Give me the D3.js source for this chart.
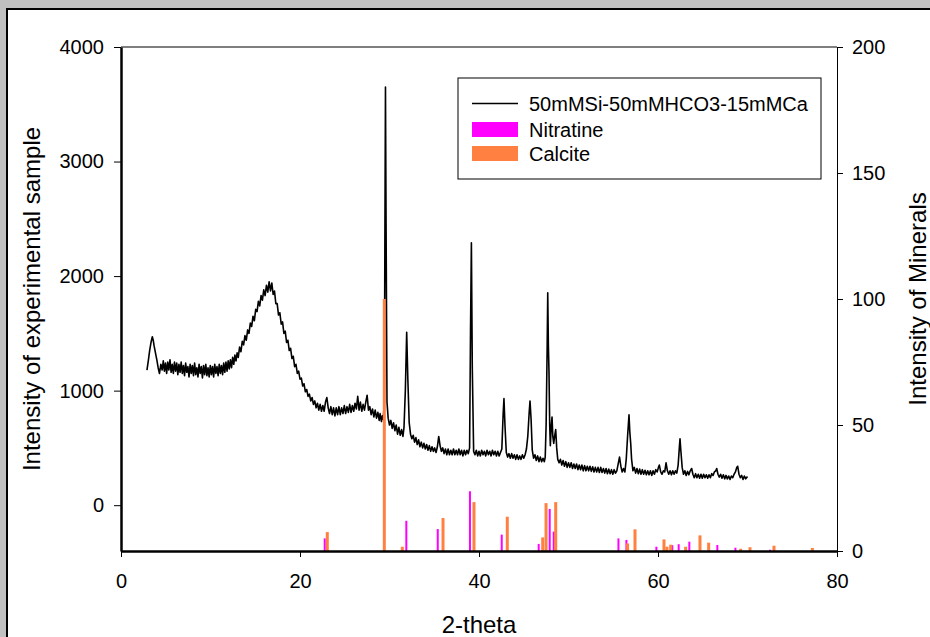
<!DOCTYPE html>
<html>
<head>
<meta charset="utf-8">
<script src="https://cdn.jsdelivr.net/npm/d3@7"></script>
<style>
  body { margin: 0; background: #c0c0c0; overflow: hidden; }
  svg { display: block; font-family: "Liberation Sans", Arial, sans-serif; }
</style>
</head>
<body>
<svg id="chart" width="930" height="637"></svg>
<script>

// measured pattern (2-theta, counts)
var sample = [
  [2.90,1180],[3.05,1260],[3.20,1350],[3.35,1420],[3.50,1470],[3.60,1440],[3.70,1390],[3.85,1330],[4.00,1270],[4.15,1200],[4.30,1150],[4.45,1230],
  [4.60,1180],[4.725,1260],[4.85,1170],[4.975,1240],[5.10,1150],[5.225,1250],[5.35,1180],[5.475,1270],[5.60,1160],[5.725,1230],[5.85,1150],[5.975,1250],
  [6.10,1170],[6.225,1240],[6.35,1140],[6.475,1230],[6.60,1160],[6.725,1250],[6.85,1150],[6.975,1220],[7.10,1130],[7.225,1240],[7.35,1160],[7.475,1210],
  [7.60,1120],[7.725,1230],[7.85,1150],[7.975,1220],[8.10,1130],[8.225,1240],[8.35,1140],[8.475,1200],[8.60,1120],[8.725,1230],[8.85,1150],[8.975,1210],
  [9.10,1110],[9.225,1220],[9.35,1140],[9.475,1230],[9.60,1130],[9.725,1200],[9.85,1120],[9.975,1220],[10.10,1140],[10.225,1210],[10.35,1120],[10.475,1230],
  [10.60,1150],[10.725,1210],[10.85,1130],[10.975,1230],[11.10,1150],[11.225,1220],[11.35,1140],[11.475,1240],[11.60,1160],[11.725,1250],[11.85,1170],[11.975,1260],
  [12.10,1190],[12.225,1270],[12.35,1200],[12.475,1290],[12.60,1230],[12.725,1310],[12.85,1260],[12.975,1330],
  [13.10,1290],[13.25,1380],[13.40,1340],[13.55,1430],[13.70,1400],[13.85,1480],[14.00,1440],[14.15,1530],[14.30,1500],[14.45,1590],[14.60,1560],[14.75,1650],
  [14.90,1610],[15.05,1710],[15.20,1690],[15.35,1780],[15.50,1740],[15.65,1830],[15.80,1790],[15.95,1880],[16.10,1830],[16.25,1920],[16.40,1860],[16.55,1950],
  [16.70,1870],[16.85,1940],[17.00,1840],[17.15,1870],[17.30,1760],[17.45,1760],[17.60,1660],[17.75,1680],[17.90,1580],[18.05,1600],[18.20,1500],[18.35,1520],
  [18.50,1420],[18.65,1440],[18.80,1350],[18.95,1370],[19.10,1280],[19.25,1300],[19.40,1210],[19.55,1230],[19.70,1150],[19.85,1170],[20.00,1100],[20.15,1110],
  [20.30,1040],[20.45,1060],[20.60,990],[20.75,1010],[20.90,950],[21.05,970],[21.20,910],[21.35,940],[21.50,880],[21.65,910],[21.80,850],[21.95,890],
  [22.10,830],[22.25,880],[22.40,820],[22.55,870],[22.70,820],[22.85,900],[23.00,940],[23.15,850],[23.30,800],[23.45,860],[23.60,790],[23.75,850],
  [23.90,780],[24.05,850],[24.20,790],[24.35,860],[24.50,790],[24.65,850],[24.80,800],[24.95,870],[25.10,800],[25.25,860],[25.40,810],[25.55,880],
  [25.70,810],[25.85,870],[26.00,820],[26.15,890],[26.30,840],[26.45,950],[26.60,830],[26.75,900],[26.90,820],[27.05,880],[27.20,830],[27.35,900],
  [27.50,960],[27.65,830],[27.80,860],[27.95,790],[28.10,840],[28.25,770],[28.40,830],[28.55,760],[28.70,810],[28.85,740],[28.95,800],[29.10,730],
  [29.20,780],[29.30,750],[29.42,900],[29.48,2200],[29.55,3650],[29.62,2400],[29.72,900],[29.85,760],[30.00,700],[30.15,740],[30.30,670],[30.45,720],
  [30.60,650],[30.75,700],[30.90,620],[31.05,680],[31.20,610],[31.35,660],[31.50,600],[31.62,680],[31.77,1000],[31.92,1510],[32.05,1100],[32.20,720],
  [32.35,620],[32.50,580],[32.65,610],[32.80,550],[32.95,590],[33.10,530],[33.25,570],[33.40,510],[33.55,550],[33.70,500],[33.85,540],[34.00,490],
  [34.15,530],[34.30,480],[34.45,520],[34.60,470],[34.75,510],[34.90,470],[35.05,500],[35.20,460],[35.35,510],[35.50,600],[35.65,520],[35.80,470],
  [35.95,500],[36.10,450],[36.25,490],[36.40,440],[36.55,490],[36.70,440],[36.85,480],[37.00,440],[37.15,490],[37.30,440],[37.45,480],[37.60,440],
  [37.75,490],[37.90,440],[38.05,480],[38.20,430],[38.35,480],[38.50,440],[38.65,480],[38.80,450],[38.95,500],[39.05,1500],[39.15,2290],[39.25,1200],
  [39.40,470],[39.55,440],[39.70,480],[39.85,430],[40.00,470],[40.15,430],[40.30,480],[40.45,440],[40.60,470],[40.75,430],[40.90,480],[41.05,440],
  [41.20,470],[41.35,430],[41.50,480],[41.65,440],[41.80,470],[41.95,430],[42.10,470],[42.25,430],[42.40,460],[42.55,490],[42.70,800],[42.79,930],
  [42.90,700],[43.05,460],[43.20,420],[43.35,450],[43.50,410],[43.65,450],[43.80,410],[43.95,440],[44.10,400],[44.25,440],[44.40,400],[44.55,430],
  [44.70,400],[44.85,440],[45.00,410],[45.15,440],[45.30,490],[45.45,600],[45.60,800],[45.70,910],[45.82,750],[45.95,480],[46.10,410],[46.25,440],
  [46.40,390],[46.55,430],[46.70,380],[46.85,420],[47.00,380],[47.15,410],[47.30,380],[47.40,420],[47.50,700],[47.62,1400],[47.68,1855],[47.75,1400],
  [47.82,1165],[47.90,700],[47.97,520],[48.08,700],[48.16,770],[48.25,600],[48.35,540],[48.45,600],[48.57,660],[48.68,500],[48.80,400],[48.95,370],
  [49.10,400],[49.25,350],[49.40,390],[49.55,340],[49.70,380],[49.85,330],[50.00,370],[50.15,330],[50.30,370],[50.45,320],[50.60,360],[50.75,320],
  [50.90,360],[51.05,310],[51.20,350],[51.35,310],[51.50,350],[51.65,300],[51.80,345],[51.95,300],[52.10,340],[52.25,300],[52.40,340],[52.55,295],
  [52.70,335],[52.85,290],[53.00,330],[53.15,290],[53.30,330],[53.45,285],[53.60,330],[53.75,285],[53.90,320],[54.05,280],[54.20,320],[54.35,275],
  [54.50,315],[54.65,275],[54.80,310],[54.95,270],[55.10,310],[55.25,280],[55.40,300],[55.55,360],[55.70,420],[55.85,340],[56.00,290],[56.15,320],
  [56.30,290],[56.45,400],[56.60,600],[56.76,790],[56.85,640],[56.95,540],[57.05,400],[57.20,300],[57.35,330],[57.50,280],[57.65,320],[57.80,275],
  [57.95,315],[58.10,270],[58.25,310],[58.40,270],[58.55,305],[58.70,265],[58.85,300],[59.00,265],[59.15,300],[59.30,260],[59.45,300],[59.60,270],
  [59.75,310],[59.90,290],[60.05,330],[60.15,350],[60.30,290],[60.45,270],[60.60,300],[60.75,290],[60.90,370],[61.05,300],[61.20,270],[61.35,300],
  [61.50,265],[61.65,300],[61.80,270],[61.95,300],[62.10,280],[62.25,350],[62.40,520],[62.46,580],[62.55,480],[62.70,330],[62.85,270],[63.00,300],
  [63.15,260],[63.30,295],[63.45,265],[63.60,300],[63.76,320],[63.90,270],[64.05,240],[64.20,275],[64.35,240],[64.50,270],[64.65,235],[64.80,270],
  [64.95,235],[65.10,270],[65.25,240],[65.40,265],[65.55,235],[65.70,265],[65.85,240],[66.00,275],[66.15,260],[66.30,290],[66.45,300],[66.56,320],
  [66.70,270],[66.85,245],[67.00,270],[67.15,235],[67.30,265],[67.45,230],[67.60,260],[67.75,230],[67.90,255],[68.05,225],[68.20,255],[68.35,240],
  [68.50,270],[68.65,290],[68.80,330],[68.90,340],[69.05,270],[69.20,240],[69.35,260],[69.50,225],[69.65,255],[69.80,230],[70.00,250]
];

// reference lines (2-theta, relative intensity)
var nitratine = [
  [22.76,5.0],[31.88,12.0],[35.39,8.7],[38.99,23.7],[42.54,6.5],[46.67,2.8],[47.90,16.7],[48.35,7.7],[55.58,5.0],
  [56.47,4.4],[59.82,1.7],[61.60,2.3],[62.31,2.7],[63.50,3.7],[66.63,2.4],[68.65,1.3],[72.51,0.5]
];
var calcite = [
  [23.05,7.5],[29.42,100],[31.43,1.7],[35.98,13.1],[39.44,19.4],[43.16,13.6],[47.12,5.4],[47.49,19.0],[48.57,19.4],[56.60,3.0],
  [57.43,8.6],[60.67,4.6],[61.00,1.7],[61.42,2.5],[63.09,1.7],[64.69,6.2],[65.66,3.3],[69.24,0.9],[70.28,1.5],[72.96,2.1],[77.25,1.2]
];

var xTicks = [0, 20, 40, 60, 80];
var leftTicks = [0, 1000, 2000, 3000, 4000];
var rightTicks = [0, 50, 100, 150, 200];

var legendItems = ['50mMSi-50mMHCO3-15mMCa', 'Nitratine', 'Calcite'];

var svg = d3.select('#chart');

// panel (runs off the right and bottom edges)
svg.append('rect')
   .attr('x', 7).attr('y', 9)
   .attr('width', 940).attr('height', 640)
   .attr('fill', '#fff')
   .attr('stroke', '#000')
   .attr('stroke-width', 2);

var plotL = 121, plotR = 837, plotT = 47, plotB = 551;

var x = d3.scaleLinear().domain([0, 80]).range([plotL, plotR]);
var yL = d3.scaleLinear().domain([-400, 4000]).range([plotB, plotT]);
var yR = d3.scaleLinear().domain([0, 200]).range([plotB, plotT]);

// sample curve
var line = d3.line()
             .x(function(d){ return x(d[0]); })
             .y(function(d){ return yL(d[1]); });

svg.append('path')
   .datum(sample)
   .attr('d', line)
   .attr('fill', 'none')
   .attr('stroke', '#000')
   .attr('stroke-width', 1.6)
   .attr('stroke-linejoin', 'round');

// mineral bars
function bars(data, color, w){
	svg.append('g')
	   .selectAll('rect')
	   .data(data)
	   .enter().append('rect')
	   .attr('x', function(d){ return x(d[0]) - w/2; })
	   .attr('width', w)
	   .attr('y', function(d){ return yR(d[1]); })
	   .attr('height', function(d){ return yR(0) - yR(d[1]); })
	   .attr('fill', color);
}
bars(nitratine, '#ff00ff', 2);
bars(calcite, '#ff8040', 3);

// top frame line
svg.append('line').attr('x1', plotL).attr('x2', plotR).attr('y1', plotT).attr('y2', plotT)
   .attr('stroke', '#000').attr('stroke-width', 1);

// axes
var fmt = d3.format('d');

var axL = svg.append('g')
             .attr('transform', 'translate(' + plotL + ',0)')
             .call(d3.axisLeft(yL).tickValues(leftTicks).tickFormat(fmt).tickSize(7).tickSizeOuter(0).tickPadding(10));

var axB = svg.append('g')
             .attr('transform', 'translate(0,' + plotB + ')')
             .call(d3.axisBottom(x).tickValues(xTicks).tickFormat(fmt).tickSize(6).tickSizeOuter(0).tickPadding(17));

var axR = svg.append('g')
             .attr('transform', 'translate(' + plotR + ',0)')
             .call(d3.axisRight(yR).tickValues(rightTicks).tickFormat(fmt).tickSize(6).tickSizeOuter(0).tickPadding(9));

[axL, axB, axR].forEach(function(a){
	a.attr('font-family', null).attr('font-size', null);
	a.selectAll('text').attr('font-size', 20).attr('fill', '#000');
	a.selectAll('line').attr('stroke', '#000');
});
axL.select('.domain').attr('stroke', '#000').attr('stroke-width', 2.5);
axB.select('.domain').attr('stroke', '#000').attr('stroke-width', 2.5);
axR.select('.domain').attr('stroke', '#000').attr('stroke-width', 1);

// titles
svg.append('text')
   .attr('x', 479).attr('y', 633)
   .attr('text-anchor', 'middle')
   .attr('font-size', 24)
   .text('2-theta');

svg.append('text')
   .attr('transform', 'translate(40,' + (plotT + plotB) / 2 + ') rotate(-90)')
   .attr('text-anchor', 'middle')
   .attr('font-size', 24)
   .text('Intensity of experimental sample');

svg.append('text')
   .attr('transform', 'translate(926,' + (plotT + plotB) / 2 + ') rotate(-90)')
   .attr('text-anchor', 'middle')
   .attr('font-size', 24)
   .text('Intensity of Minerals');

// legend
var lg = svg.append('g');
lg.append('rect')
  .attr('x', 458).attr('y', 78)
  .attr('width', 363).attr('height', 101)
  .attr('fill', '#fff')
  .attr('stroke', '#000')
  .attr('stroke-width', 1);

lg.append('line')
  .attr('x1', 472).attr('x2', 518)
  .attr('y1', 103.5).attr('y2', 103.5)
  .attr('stroke', '#000').attr('stroke-width', 1.5);

lg.append('rect').attr('x', 472).attr('y', 122).attr('width', 46).attr('height', 15).attr('fill', '#ff00ff');
lg.append('rect').attr('x', 472).attr('y', 146).attr('width', 46).attr('height', 15).attr('fill', '#ff8040');

lg.selectAll('text.item')
  .data(legendItems)
  .enter().append('text')
  .attr('class', 'item')
  .attr('x', 529)
  .attr('y', function(d, i){ return [103.5, 129.5, 153.5][i] + 7; })
  .attr('font-size', 20)
  .text(function(d){ return d; });

</script>
</body>
</html>
